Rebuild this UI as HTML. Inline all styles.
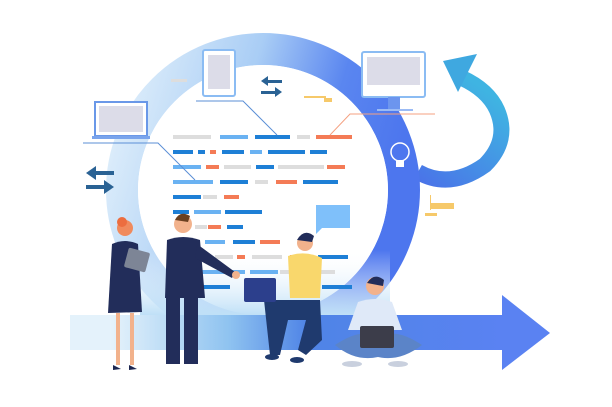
<!DOCTYPE html>
<html><head><meta charset="utf-8"><style>
html,body{margin:0;padding:0;background:#fff;width:612px;height:407px;overflow:hidden}
svg{display:block}
</style></head><body>
<svg width="612" height="407" viewBox="0 0 612 407" xmlns="http://www.w3.org/2000/svg">
<defs>
<linearGradient id="ring" x1="0" y1="0" x2="1" y2="0.3">
<stop offset="0" stop-color="#e3f1fb"/><stop offset="0.45" stop-color="#a9cdf5"/><stop offset="0.75" stop-color="#5a86f0"/><stop offset="1" stop-color="#4d76ee"/>
</linearGradient>
<linearGradient id="band" x1="0" y1="0" x2="1" y2="0">
<stop offset="0" stop-color="#e6f3fb"/><stop offset="0.3" stop-color="#8fc3f0"/><stop offset="0.5" stop-color="#4f84e6"/><stop offset="1" stop-color="#5a82f2"/>
</linearGradient>
<linearGradient id="cur" x1="0" y1="1" x2="0.6" y2="0">
<stop offset="0" stop-color="#4a74e8"/><stop offset="1" stop-color="#3fb4e2"/>
</linearGradient>
<linearGradient id="fade" x1="0" y1="0" x2="0" y2="1">
<stop offset="0" stop-color="#fff" stop-opacity="0"/><stop offset="1" stop-color="#bfe0f7"/>
</linearGradient>
</defs>
<!-- curved arrow -->
<path d="M418 172 Q450 190 485 165 Q510 140 497 110 Q488 90 462 78" fill="none" stroke="url(#cur)" stroke-width="16"/>
<polygon points="443,61 477,54 458,92" fill="#3fa8e0"/>
<!-- ring -->
<circle cx="263" cy="190" r="141" fill="none" stroke="url(#ring)" stroke-width="32"/>
<circle cx="263" cy="190" r="125" fill="#fff"/>
<!-- base glow -->
<rect x="140" y="250" width="250" height="65" fill="url(#fade)"/>
<!-- bottom band arrow -->
<rect x="70" y="315" width="40" height="35" fill="#e4f2fb"/>
<rect x="110" y="315" width="395" height="35" fill="url(#band)"/>
<polygon points="502,295 550,333 502,370" fill="#5a82f2"/>
<!-- code rows -->
<g>
<rect x="173" y="135" width="38" height="4" fill="#ddd"/><rect x="220" y="135" width="28" height="4" fill="#6ab2f2"/><rect x="255" y="135" width="35" height="4" fill="#1e7fd6"/><rect x="297" y="135" width="13" height="4" fill="#ddd"/><rect x="316" y="135" width="36" height="4" fill="#f47b56"/>
<rect x="173" y="150" width="20" height="4" fill="#1e7fd6"/><rect x="198" y="150" width="7" height="4" fill="#1e7fd6"/><rect x="210" y="150" width="6" height="4" fill="#f47b56"/><rect x="222" y="150" width="22" height="4" fill="#1e7fd6"/><rect x="250" y="150" width="12" height="4" fill="#6ab2f2"/><rect x="268" y="150" width="37" height="4" fill="#1e7fd6"/><rect x="310" y="150" width="17" height="4" fill="#1e7fd6"/>
<rect x="173" y="165" width="28" height="4" fill="#6ab2f2"/><rect x="206" y="165" width="13" height="4" fill="#f47b56"/><rect x="224" y="165" width="27" height="4" fill="#ddd"/><rect x="256" y="165" width="18" height="4" fill="#1e7fd6"/><rect x="278" y="165" width="46" height="4" fill="#ddd"/><rect x="327" y="165" width="18" height="4" fill="#f47b56"/>
<rect x="173" y="180" width="40" height="4" fill="#6ab2f2"/><rect x="220" y="180" width="28" height="4" fill="#1e7fd6"/><rect x="255" y="180" width="13" height="4" fill="#ddd"/><rect x="276" y="180" width="21" height="4" fill="#f47b56"/><rect x="303" y="180" width="35" height="4" fill="#1e7fd6"/>
<rect x="173" y="195" width="28" height="4" fill="#1e7fd6"/><rect x="203" y="195" width="14" height="4" fill="#ddd"/><rect x="224" y="195" width="15" height="4" fill="#f47b56"/>
<rect x="173" y="210" width="16" height="4" fill="#1e7fd6"/><rect x="194" y="210" width="27" height="4" fill="#6ab2f2"/><rect x="225" y="210" width="37" height="4" fill="#1e7fd6"/>
<rect x="195" y="225" width="12" height="4" fill="#ddd"/><rect x="208" y="225" width="13" height="4" fill="#f47b56"/><rect x="227" y="225" width="16" height="4" fill="#1e7fd6"/>
<rect x="205" y="240" width="20" height="4" fill="#6ab2f2"/><rect x="233" y="240" width="22" height="4" fill="#1e7fd6"/><rect x="260" y="240" width="20" height="4" fill="#f47b56"/>
<rect x="215" y="255" width="18" height="4" fill="#ddd"/><rect x="237" y="255" width="8" height="4" fill="#f47b56"/><rect x="252" y="255" width="30" height="4" fill="#ddd"/><rect x="290" y="255" width="8" height="4" fill="#f47b56"/><rect x="318" y="255" width="30" height="4" fill="#1e7fd6"/>
<rect x="200" y="270" width="45" height="4" fill="#6ab2f2"/><rect x="250" y="270" width="28" height="4" fill="#6ab2f2"/><rect x="280" y="270" width="55" height="4" fill="#ddd"/>
<rect x="200" y="285" width="30" height="4" fill="#1e7fd6"/><rect x="322" y="285" width="30" height="4" fill="#1e7fd6"/>
</g>
<!-- connector lines -->
<polyline points="196,101 243,101 277,135" fill="none" stroke="#5b8fd6" stroke-width="1"/>
<polyline points="83,143 158,143 195,180" fill="none" stroke="#5b8fd6" stroke-width="1"/>
<polyline points="435,114 350,114 330,135" fill="none" stroke="#f4a080" stroke-width="1"/>
<!-- devices -->
<rect x="203" y="50" width="32" height="46" rx="2" fill="#fff" stroke="#8bbcf3" stroke-width="2"/>
<rect x="208" y="55" width="22" height="34" fill="#dcdce8"/>
<rect x="95" y="102" width="52" height="34" fill="#fff" stroke="#6a98e8" stroke-width="2"/>
<rect x="99" y="106" width="44" height="26" fill="#dcdce8"/>
<rect x="92" y="136" width="58" height="3" fill="#7aa4ec"/>
<rect x="362" y="52" width="63" height="45" rx="2" fill="#fff" stroke="#8bbcf3" stroke-width="2"/>
<rect x="367" y="57" width="53" height="28" fill="#dcdce8"/>
<rect x="388" y="97" width="12" height="12" fill="#6c95ee"/>
<rect x="377" y="109" width="36" height="2" fill="#9bbbf5"/>
<!-- bulb -->
<circle cx="400" cy="152" r="9" fill="none" stroke="#fff" stroke-width="1.5"/>
<rect x="396" y="160" width="8" height="7" fill="#fff"/>
<!-- arrows -->
<g fill="#2a6294"><rect x="92" y="171" width="22" height="4"/><polygon points="86,173 96,166 96,180"/>
<rect x="86" y="185" width="22" height="4"/><polygon points="114,187 104,180 104,194"/>
<rect x="267" y="80" width="15" height="3"/><polygon points="261,81 268,76 268,86"/>
<rect x="261" y="91" width="15" height="3"/><polygon points="282,92 275,87 275,97"/></g>
<rect x="171" y="79" width="16" height="3" fill="#ddd"/>
<rect x="304" y="96" width="22" height="2" fill="#f6c96a"/><rect x="324" y="98" width="8" height="4" fill="#f6c96a"/>
<rect x="430" y="203" width="24" height="6" fill="#f6c96a"/><rect x="425" y="213" width="12" height="3" fill="#f6c96a"/><rect x="430" y="195" width="1" height="15" fill="#f6c96a"/>
<!-- chat bubble -->
<path d="M316 205 H350 V228 H322 L316 234 Z" fill="#7fc0fa"/>
<!-- woman -->
<circle cx="125" cy="228" r="8" fill="#f08a5d"/><circle cx="122" cy="222" r="5" fill="#ec6d3f"/>
<path d="M112 244 Q125 238 138 244 L142 312 L108 313 Z" fill="#222d5a"/>
<rect x="116" y="313" width="4" height="52" fill="#f2b28c"/><rect x="130" y="313" width="4" height="52" fill="#f2b28c"/>
<path d="M113 365 L121 369 L113 370 Z M129 365 L137 369 L129 370 Z" fill="#1c2650"/>
<rect x="126" y="250" width="22" height="20" rx="2" fill="#7d8596" transform="rotate(15 137 260)"/>
<!-- man standing -->
<circle cx="183" cy="224" r="9" fill="#f2b28c"/><path d="M175 220 Q180 210 190 216 L188 222 Z" fill="#6b4020"/>
<path d="M167 240 Q183 234 200 240 L205 298 L165 298 Z" fill="#222d5a"/>
<path d="M197 244 L235 272 L232 278 L195 258 Z" fill="#222d5a"/>
<circle cx="236" cy="275" r="4" fill="#f2b28c"/>
<rect x="166" y="298" width="14" height="66" fill="#222d5a"/><rect x="184" y="298" width="14" height="66" fill="#222d5a"/>
<!-- man sitting laptop -->
<circle cx="305" cy="243" r="8" fill="#f2b28c"/><path d="M297 240 Q304 228 314 236 L312 242 Z" fill="#222d5a"/>
<path d="M288 256 Q305 250 322 258 L320 298 L290 298 Z" fill="#f9d76c"/>
<path d="M264 300 L320 300 L322 340 L306 355 L298 350 L306 320 L288 320 L280 355 L270 355 Z" fill="#1f3a6e"/>
<rect x="244" y="278" width="32" height="24" rx="2" fill="#2c3f8c"/>
<ellipse cx="272" cy="357" rx="7" ry="3" fill="#1f3a6e"/><ellipse cx="297" cy="360" rx="7" ry="3" fill="#1f3a6e"/>
<!-- man cross-legged -->
<circle cx="375" cy="286" r="9" fill="#f2b28c"/><path d="M367 283 Q374 272 384 280 L383 286 Z" fill="#222d5a"/>
<path d="M358 302 Q375 296 392 302 L402 330 L348 330 Z" fill="#dfe9f8"/>
<path d="M335 345 Q365 325 378 340 Q392 325 422 345 Q400 362 378 357 Q355 362 335 345 Z" fill="#5b84c8"/>
<rect x="360" y="326" width="34" height="22" rx="2" fill="#3c3d4a"/>
<ellipse cx="352" cy="364" rx="10" ry="3" fill="#c9d0de"/><ellipse cx="398" cy="364" rx="10" ry="3" fill="#c9d0de"/>
</svg>
</body></html>
